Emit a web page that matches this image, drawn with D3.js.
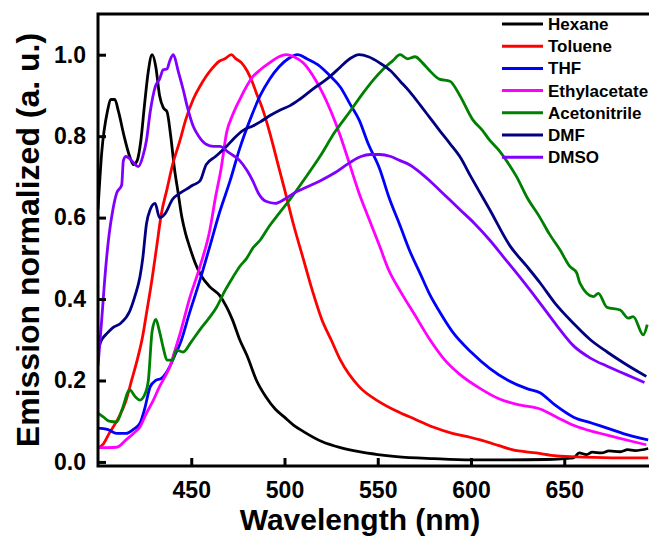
<!DOCTYPE html>
<html>
<head>
<meta charset="utf-8">
<script src="https://cdn.jsdelivr.net/npm/d3@7/dist/d3.min.js"></script>
<style>
  html, body { margin: 0; padding: 0; background: #ffffff; }
  svg { display: block; }
  text { font-family: "Liberation Sans", Arial, sans-serif; font-weight: bold; fill: #000; }
</style>
</head>
<body>
<svg id="chart" width="649" height="538"></svg>
<script>
// ---- data (wavelength nm, normalized emission) ----
const seriesNames = ["Hexane", "Toluene", "THF", "Ethylacetate", "Acetonitrile", "DMF", "DMSO"];
const seriesColors = ["#000000", "#ff0000", "#0000ff", "#ff00ff", "#008000", "#000080", "#8000ff"];
const xTicks = [450, 500, 550, 600, 650];
const yTicks = [0.0, 0.2, 0.4, 0.6, 0.8, 1.0];

const hexane = [[400,0.62],[402,0.76],[405,0.86],[407,0.89],[409,0.89],[411,0.86],[414,0.80],[417,0.75],[419,0.73],[421,0.74],[423,0.79],[425,0.88],[427,0.96],[429,1.0],[431,0.97],[433,0.90],[435,0.87],[437,0.86],[439,0.80],[441,0.72],[443,0.66],[445,0.60],[447,0.56],[449,0.53],[452,0.49],[455,0.46],[460,0.43],[465,0.41],[469,0.38],[472,0.35],[476,0.30],[480,0.26],[485,0.20],[490,0.16],[495,0.13],[500,0.11],[505,0.09],[510,0.075],[520,0.05],[530,0.035],[540,0.025],[550,0.018],[560,0.013],[580,0.008],[600,0.005],[620,0.005],[640,0.006],[655,0.01],[658,0.022],[662,0.018],[665,0.024],[670,0.022],[674,0.027],[680,0.025],[684,0.03],[688,0.028],[695,0.033]];
const toluene = [[400,0.034],[403,0.045],[406,0.07],[410,0.10],[415,0.15],[418,0.2],[421,0.25],[424,0.31],[426,0.365],[429,0.45],[431.5,0.53],[434,0.61],[437,0.67],[440,0.73],[444,0.79],[447,0.84],[451,0.89],[455,0.925],[458,0.947],[461,0.965],[465,0.984],[468,0.99],[471.5,1.0],[474,0.99],[477,0.98],[480,0.96],[483,0.93],[485,0.905],[488,0.87],[492,0.81],[496,0.74],[500,0.67],[505,0.58],[510,0.50],[515,0.42],[520,0.35],[525,0.30],[530,0.25],[540,0.185],[550,0.15],[560,0.125],[570,0.105],[580,0.085],[590,0.07],[600,0.06],[605,0.054],[615,0.04],[622,0.03],[635,0.022],[646,0.015],[660,0.012],[680,0.01],[695,0.01]];
const thf = [[400,0.083],[405,0.08],[410,0.07],[415,0.07],[419,0.08],[422.5,0.095],[425,0.13],[428,0.185],[431,0.20],[434,0.205],[438.6,0.235],[441,0.26],[444,0.29],[449,0.365],[454.7,0.447],[460,0.53],[465,0.61],[470.8,0.69],[476,0.77],[481.5,0.84],[487,0.90],[492,0.94],[497,0.97],[502,0.99],[507,1.0],[512,0.99],[518,0.975],[524,0.95],[530,0.92],[535,0.88],[540,0.84],[545,0.78],[551,0.72],[556,0.65],[562,0.58],[567,0.52],[573,0.46],[578,0.41],[583,0.37],[590,0.32],[600,0.27],[610,0.23],[620,0.20],[630,0.18],[637,0.17],[645,0.14],[655,0.11],[665,0.095],[673,0.083],[685,0.065],[695,0.054]];
const ethylacetate = [[400,0.035],[405,0.035],[410,0.036],[415,0.054],[419,0.07],[422.5,0.086],[426,0.12],[429.5,0.15],[433,0.185],[436,0.21],[438.6,0.235],[441,0.27],[444,0.315],[449,0.40],[454.7,0.48],[460,0.57],[463,0.65],[466,0.72],[469,0.81],[472,0.85],[476,0.89],[483,0.946],[487,0.963],[492,0.98],[497,0.995],[501,1.0],[505,0.995],[510,0.98],[515,0.95],[520,0.91],[525,0.86],[530,0.80],[535,0.73],[540,0.66],[545,0.60],[551,0.53],[556,0.47],[562,0.42],[570,0.36],[578,0.30],[586,0.25],[594,0.215],[605,0.18],[615,0.155],[626,0.14],[637,0.13],[646,0.11],[655,0.09],[665,0.075],[673,0.066],[685,0.052],[694,0.042]];
const acetonitrile = [[400,0.12],[403,0.11],[406,0.10],[410,0.098],[413,0.13],[417,0.177],[420,0.16],[422.5,0.152],[425,0.165],[427,0.2],[429,0.32],[431,0.35],[433,0.32],[435,0.28],[437,0.25],[440,0.25],[442,0.275],[445.6,0.27],[450,0.295],[454.7,0.325],[459,0.35],[463.6,0.38],[468,0.42],[472.5,0.455],[476,0.48],[479.7,0.50],[483,0.525],[487,0.545],[492,0.58],[497,0.61],[503,0.645],[510,0.69],[519,0.75],[527,0.81],[535,0.86],[542,0.905],[548,0.94],[553,0.965],[558,0.985],[562,1.0],[566,0.99],[570,0.995],[574,0.98],[578,0.96],[583,0.94],[588.7,0.935],[594,0.90],[601,0.84],[606,0.815],[610,0.79],[615,0.765],[619,0.74],[624.5,0.70],[630,0.65],[637,0.60],[642,0.56],[647.7,0.521],[653,0.48],[656.7,0.464],[658.4,0.439],[665.6,0.406],[668.3,0.414],[672.8,0.38],[680,0.373],[684.3,0.353],[687,0.357],[692.4,0.312],[694.5,0.337]];
const dmf = [[400,0.275],[402,0.30],[404.7,0.315],[408,0.33],[412,0.34],[417,0.37],[420,0.41],[422.5,0.455],[424,0.5],[426,0.585],[428,0.62],[430.6,0.635],[433,0.60],[436,0.61],[440,0.645],[444,0.66],[447.5,0.67],[451,0.68],[454.7,0.69],[458,0.73],[463,0.75],[469,0.775],[473,0.795],[478,0.815],[483,0.825],[487,0.835],[492,0.85],[498,0.865],[503,0.875],[508,0.89],[515,0.915],[524,0.945],[530,0.97],[535,0.99],[540,1.0],[545,0.995],[551,0.98],[557,0.96],[562,0.935],[567,0.91],[573,0.875],[578,0.845],[583,0.815],[589,0.78],[594,0.75],[600,0.70],[610,0.62],[621,0.53],[630,0.48],[637,0.44],[645,0.39],[655,0.34],[664,0.30],[673,0.27],[683,0.24],[694,0.21]];
const dmso = [[400,0.235],[402,0.35],[404,0.47],[406,0.56],[408,0.62],[410,0.66],[412.7,0.68],[413.6,0.74],[415,0.75],[417,0.745],[419,0.735],[421.6,0.725],[424,0.75],[426,0.79],[428,0.86],[430.6,0.92],[433,0.94],[435,0.963],[437,0.965],[438.5,0.985],[440.4,1.0],[443,0.96],[445.7,0.914],[448,0.87],[451,0.825],[454,0.80],[458,0.78],[462,0.775],[465.4,0.775],[470,0.76],[476,0.74],[480,0.715],[483,0.69],[486,0.66],[490,0.64],[495,0.635],[500,0.645],[505,0.66],[512,0.675],[519,0.69],[527,0.71],[535,0.735],[541,0.75],[546,0.755],[551,0.755],[557,0.75],[562,0.74],[567,0.73],[573,0.71],[578,0.69],[586,0.655],[594,0.62],[602,0.585],[610,0.545],[618,0.50],[626,0.455],[632,0.42],[637,0.39],[646,0.335],[655,0.285],[664,0.255],[673,0.235],[683,0.215],[693,0.195]];

const seriesData = [hexane, toluene, thf, ethylacetate, acetonitrile, dmf, dmso];

// ---- layout ----
const svg = d3.select("#chart");
const plot = { left: 98, right: 657.5, top: 14, bottom: 466 };
const x = d3.scaleLinear().domain([400, 700]).range([plot.left, plot.right]);
const y = d3.scaleLinear().domain([-0.01, 1.1]).range([plot.bottom, plot.top]);

svg.append("defs").append("clipPath").attr("id", "clip")
  .append("rect").attr("x", plot.left).attr("y", plot.top)
  .attr("width", plot.right - plot.left).attr("height", plot.bottom - plot.top);

// lines
const line = d3.line().x(d => x(d[0])).y(d => y(d[1])).curve(d3.curveMonotoneX);
const gLines = svg.append("g").attr("clip-path", "url(#clip)");
seriesData.forEach((s, i) => {
  gLines.append("path").datum(s)
    .attr("fill", "none").attr("stroke", seriesColors[i])
    .attr("stroke-width", 2.8).attr("stroke-linejoin", "round")
    .attr("d", line);
});

// axes (inward ticks)
const xAxis = d3.axisBottom(x).tickValues(xTicks).tickSize(-8).tickPadding(16).tickFormat(d3.format("d"));
const gx = svg.append("g").attr("transform", `translate(0,${plot.bottom})`).call(xAxis);
gx.select(".domain").remove();
gx.selectAll(".tick line").attr("stroke", "#000").attr("stroke-width", 3);
gx.selectAll(".tick text").attr("font-size", 23).attr("font-family", "Liberation Sans, Arial, sans-serif").attr("font-weight", "bold").attr("fill", "#000");

const yAxis = d3.axisLeft(y).tickValues(yTicks).tickSize(-8).tickPadding(12).tickFormat(d3.format(".1f"));
const gy = svg.append("g").attr("transform", `translate(${plot.left},0)`).call(yAxis);
gy.select(".domain").remove();
gy.selectAll(".tick line").attr("stroke", "#000").attr("stroke-width", 3);
gy.selectAll(".tick text").attr("font-size", 23).attr("font-family", "Liberation Sans, Arial, sans-serif").attr("font-weight", "bold").attr("fill", "#000");

// frame
svg.append("rect").attr("x", plot.left).attr("y", plot.top)
  .attr("width", plot.right - plot.left).attr("height", plot.bottom - plot.top)
  .attr("fill", "none").attr("stroke", "#000").attr("stroke-width", 3);

// axis titles
svg.append("text").attr("x", 360).attr("y", 530).attr("text-anchor", "middle")
  .attr("font-size", 30).text("Wavelength (nm)");
svg.append("text").attr("transform", `translate(39,${(plot.top + plot.bottom) / 2}) rotate(-90)`)
  .attr("text-anchor", "middle").attr("font-size", 32).text("Emission normalized (a. u.)");

// legend
const legend = svg.append("g");
seriesNames.forEach((n, i) => {
  const cy = 24 + i * 22.2;
  legend.append("line").attr("x1", 502).attr("x2", 543).attr("y1", cy).attr("y2", cy)
    .attr("stroke", seriesColors[i]).attr("stroke-width", 3);
  legend.append("text").attr("x", 548).attr("y", cy + 6).attr("font-size", 17).text(n);
});
</script>
</body>
</html>
